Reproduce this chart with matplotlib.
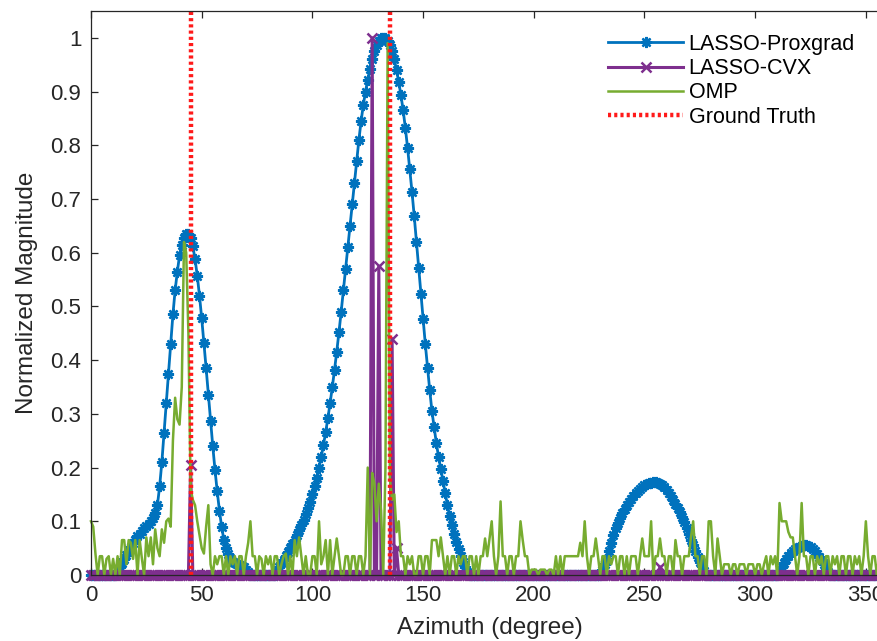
import numpy as np
import matplotlib.pyplot as plt

plt.rcParams['font.family'] = ['Liberation Sans', 'DejaVu Sans']

# azimuth grid (degree)
azimuth = np.arange(0, 361)

# LASSO-Proxgrad lobes: (first degree, values per degree)
prox_lobe1_start = 12
prox_lobe1 = [0.008, 0.015, 0.022, 0.030, 0.038, 0.046, 0.053, 0.060, 0.066, 0.072,
              0.077, 0.082, 0.087, 0.091, 0.095, 0.100, 0.106, 0.115, 0.130, 0.165,
              0.210, 0.265, 0.320, 0.375, 0.430, 0.485, 0.530, 0.565, 0.595, 0.615,
              0.628, 0.634, 0.635, 0.628, 0.612, 0.588, 0.557, 0.520, 0.478, 0.432,
              0.385, 0.336, 0.287, 0.240, 0.196, 0.156, 0.120, 0.090, 0.066, 0.050,
              0.039, 0.031, 0.025, 0.022, 0.020, 0.018, 0.016, 0.014, 0.010, 0.005]
prox_lobe2_start = 84
prox_lobe2 = [0.008, 0.015, 0.022, 0.028, 0.035, 0.042, 0.050, 0.058, 0.066, 0.075,
              0.084, 0.093, 0.103, 0.113, 0.124, 0.136, 0.150, 0.165, 0.181, 0.200,
              0.220, 0.242, 0.266, 0.292, 0.320, 0.350, 0.382, 0.416, 0.452, 0.490,
              0.530, 0.570, 0.610, 0.650, 0.690, 0.730, 0.770, 0.810, 0.845, 0.875,
              0.900, 0.922, 0.942, 0.960, 0.975, 0.986, 0.994, 0.999, 1.000, 0.999,
              0.994, 0.986, 0.975, 0.960, 0.940, 0.918, 0.893, 0.865, 0.832, 0.795,
              0.755, 0.713, 0.668, 0.620, 0.572, 0.524, 0.476, 0.430, 0.386, 0.344,
              0.305, 0.275, 0.245, 0.220, 0.198, 0.175, 0.152, 0.130, 0.110, 0.093,
              0.077, 0.062, 0.048, 0.035, 0.024, 0.014, 0.006]
prox_lobe3_start = 231
prox_lobe3 = [0.010, 0.020, 0.030, 0.045, 0.060, 0.075, 0.087, 0.097, 0.107, 0.115,
              0.122, 0.130, 0.136, 0.142, 0.148, 0.153, 0.157, 0.161, 0.164, 0.167,
              0.169, 0.171, 0.172, 0.173, 0.173, 0.172, 0.170, 0.167, 0.163, 0.158,
              0.153, 0.147, 0.140, 0.133, 0.125, 0.117, 0.108, 0.098, 0.088, 0.077,
              0.066, 0.055, 0.044, 0.034, 0.025, 0.016, 0.008]
prox_lobe4_start = 311
prox_lobe4 = [0.008, 0.015, 0.022, 0.030, 0.036, 0.041, 0.045, 0.048, 0.051, 0.053,
              0.054, 0.055, 0.055, 0.054, 0.052, 0.049, 0.045, 0.040, 0.034, 0.027,
              0.020, 0.012, 0.005]

# LASSO-CVX: sparse non-zero entries
cvx_deg = [45, 127, 130, 136, 138, 257]
cvx_val = [0.205, 1.0, 0.575, 0.44, 0.05, 0.015]

# OMP, one value per degree 0..360
omp = [0.10, 0.09, 0.04, 0.00, 0.035, 0.035, 0.00, 0.03, 0.035, 0.00,
       0.03, 0.00, 0.035, 0.00, 0.065, 0.065, 0.02, 0.065, 0.06, 0.03,
       0.065, 0.00, 0.065, 0.03, 0.00, 0.07, 0.035, 0.07, 0.02, 0.085,
       0.05, 0.035, 0.085, 0.06, 0.10, 0.105, 0.09, 0.25, 0.33, 0.29,
       0.28, 0.35, 0.62, 0.60, 0.45, 0.16, 0.14, 0.13, 0.10, 0.075,
       0.05, 0.04, 0.09, 0.13, 0.02, 0.00, 0.035, 0.02, 0.035, 0.035,
       0.00, 0.035, 0.00, 0.035, 0.02, 0.035, 0.00, 0.035, 0.035, 0.00,
       0.035, 0.06, 0.10, 0.035, 0.035, 0.00, 0.035, 0.03, 0.00, 0.035,
       0.02, 0.035, 0.00, 0.035, 0.035, 0.00, 0.02, 0.035, 0.04, 0.00,
       0.035, 0.00, 0.065, 0.035, 0.07, 0.035, 0.00, 0.035, 0.00, 0.00,
       0.035, 0.035, 0.00, 0.10, 0.02, 0.035, 0.065, 0.00, 0.065, 0.00,
       0.035, 0.068, 0.035, 0.00, 0.00, 0.035, 0.035, 0.00, 0.035, 0.035,
       0.00, 0.035, 0.035, 0.00, 0.035, 0.20, 0.00, 0.19, 0.17, 0.10,
       0.17, 0.12, 0.00, 0.20, 0.99, 0.18, 0.14, 0.15, 0.08, 0.10,
       0.035, 0.035, 0.00, 0.035, 0.02, 0.035, 0.00, 0.00, 0.035, 0.035,
       0.00, 0.035, 0.035, 0.00, 0.065, 0.065, 0.065, 0.035, 0.07, 0.035,
       0.00, 0.035, 0.00, 0.035, 0.035, 0.00, 0.035, 0.02, 0.035, 0.035,
       0.00, 0.035, 0.035, 0.00, 0.035, 0.00, 0.035, 0.035, 0.068, 0.035,
       0.068, 0.10, 0.035, 0.00, 0.035, 0.137, 0.035, 0.035, 0.00, 0.035,
       0.035, 0.00, 0.035, 0.035, 0.10, 0.065, 0.035, 0.035, 0.00, 0.01,
       0.01, 0.01, 0.00, 0.01, 0.01, 0.01, 0.00, 0.01, 0.01, 0.00,
       0.035, 0.00, 0.035, 0.00, 0.035, 0.035, 0.035, 0.035, 0.035, 0.035,
       0.035, 0.06, 0.035, 0.10, 0.035, 0.00, 0.035, 0.035, 0.068, 0.035,
       0.00, 0.035, 0.035, 0.00, 0.035, 0.02, 0.035, 0.035, 0.00, 0.035,
       0.035, 0.00, 0.035, 0.00, 0.035, 0.035, 0.035, 0.00, 0.035, 0.068,
       0.035, 0.035, 0.035, 0.10, 0.00, 0.035, 0.035, 0.068, 0.035, 0.035,
       0.00, 0.035, 0.035, 0.00, 0.065, 0.035, 0.035, 0.00, 0.035, 0.035,
       0.035, 0.07, 0.10, 0.035, 0.035, 0.00, 0.035, 0.035, 0.00, 0.10,
       0.10, 0.035, 0.00, 0.068, 0.035, 0.00, 0.02, 0.02, 0.02, 0.00,
       0.02, 0.02, 0.00, 0.02, 0.02, 0.02, 0.00, 0.02, 0.02, 0.02,
       0.00, 0.02, 0.02, 0.00, 0.02, 0.035, 0.00, 0.035, 0.02, 0.035,
       0.00, 0.134, 0.10, 0.10, 0.10, 0.08, 0.07, 0.07, 0.035, 0.00,
       0.035, 0.134, 0.035, 0.035, 0.00, 0.035, 0.035, 0.00, 0.035, 0.02,
       0.035, 0.00, 0.035, 0.035, 0.00, 0.035, 0.02, 0.035, 0.00, 0.035,
       0.035, 0.00, 0.035, 0.035, 0.00, 0.035, 0.02, 0.035, 0.00, 0.035,
       0.10, 0.035, 0.00, 0.035, 0.035, 0.00, 0.035, 0.035, 0.00, 0.035,
       0.035]

ground_truth = [45, 135]

x_ticks = np.arange(0, 351, 50)
y_ticks = np.round(np.arange(0, 1.01, 0.1), 1)
y_ticklabels = ['0', '0.1', '0.2', '0.3', '0.4', '0.5', '0.6', '0.7', '0.8', '0.9', '1']


def build_prox():
    prox = np.zeros(len(azimuth))
    for start, vals in [(prox_lobe1_start, prox_lobe1), (prox_lobe2_start, prox_lobe2),
                        (prox_lobe3_start, prox_lobe3), (prox_lobe4_start, prox_lobe4)]:
        prox[start:start + len(vals)] = vals
    return prox


def build_cvx():
    cvx = np.zeros(len(azimuth))
    cvx[cvx_deg] = cvx_val
    return cvx


def main():
    fig = plt.figure(figsize=(8.78, 6.41), dpi=100)
    ax = fig.add_axes([91 / 878, 66 / 641, 797 / 878, 564 / 641])

    prox = build_prox()
    cvx = build_cvx()

    ax.plot(azimuth, prox, color='#0072BD', lw=2, marker=(8, 2, 0), ms=8, mew=1.7,
            label='LASSO-Proxgrad', clip_on=False)
    ax.plot(azimuth, cvx, color='#7E2F8E', lw=2.2, marker='x', ms=7, mew=1.8,
            label='LASSO-CVX', clip_on=False)
    ax.plot(azimuth, omp, color='#77AC30', lw=1.8, label='OMP', clip_on=False)
    for i, g in enumerate(ground_truth):
        ax.axvline(g, color='#FF1A1A', lw=3.2, linestyle=(0, (0.7, 0.7)),
                   label='Ground Truth' if i == 0 else None)

    ax.set_xlim(0, 360)
    ax.set_ylim(0, 1.05)
    ax.set_xticks(x_ticks)
    ax.set_yticks(y_ticks)
    ax.set_yticklabels(y_ticklabels)
    ax.tick_params(direction='in', top=True, right=True, length=5, width=0.9,
                   labelsize=16, colors='#262626', pad=7)
    for s in ax.spines.values():
        s.set_color('#262626')
        s.set_linewidth(0.9)

    ax.set_xlabel('Azimuth (degree)', fontsize=17.5, color='#262626', labelpad=8)
    ax.set_ylabel('Normalized Magnitude', fontsize=17.5, color='#262626', labelpad=9)

    ax.legend(loc='upper left', bbox_to_anchor=(608 / 878, 1 - 34 / 641),
              bbox_transform=fig.transFigure, frameon=False, fontsize=15.5,
              handlelength=3.5, handletextpad=0.25, labelspacing=0.15,
              borderpad=0, borderaxespad=0)

    fig.savefig('out.png', dpi=100)


if __name__ == "__main__":
    main()
